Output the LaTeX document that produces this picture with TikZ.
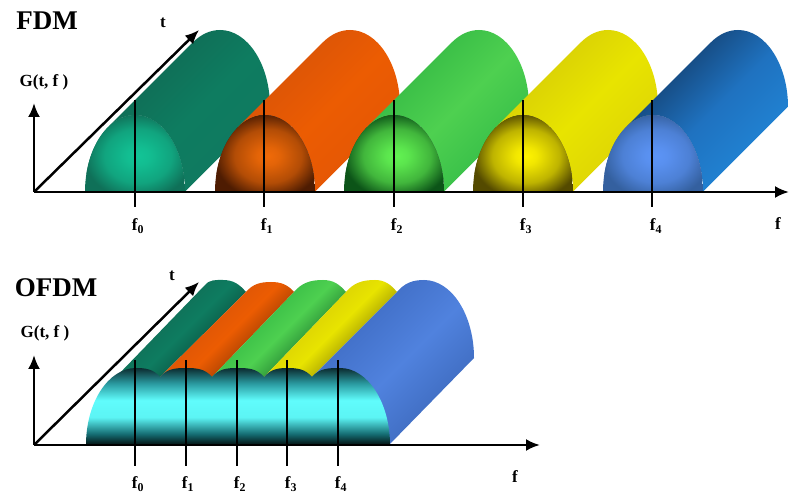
\documentclass[tikz,border=0pt]{standalone}
\usepackage{fontspec}
\usetikzlibrary{arrows.meta}
\setmainfont{Liberation Serif}

% Body colours (upper edge / middle / lower edge), then arch rim and arch centre.
\definecolor{tealA}{HTML}{0F7058}\definecolor{tealB}{HTML}{0E7C60}\definecolor{tealC}{HTML}{0F7A60}
\definecolor{tealrim}{HTML}{0F7058}\definecolor{tealglow}{HTML}{12C496}
\definecolor{orangeA}{HTML}{DE5606}\definecolor{orangeB}{HTML}{EC5C02}\definecolor{orangeC}{HTML}{E65804}
\definecolor{orangerim}{HTML}{4E1C02}\definecolor{orangeglow}{HTML}{F06A08}
\definecolor{greenA}{HTML}{3CC048}\definecolor{greenB}{HTML}{4ED050}\definecolor{greenC}{HTML}{3CC24A}
\definecolor{greenrim}{HTML}{0C5418}\definecolor{greenglow}{HTML}{62F252}
\definecolor{yellowA}{HTML}{DCD404}\definecolor{yellowB}{HTML}{E8E400}\definecolor{yellowC}{HTML}{E0D804}
\definecolor{yellowrim}{HTML}{544A00}\definecolor{yellowglow}{HTML}{FFF400}
\definecolor{blueA}{HTML}{174F88}\definecolor{blueB}{HTML}{1F72C0}\definecolor{blueC}{HTML}{2080D0}
\definecolor{bluerim}{HTML}{34609F}\definecolor{blueglow}{HTML}{5C94F6}
\definecolor{ofdmblueA}{HTML}{4270C8}\definecolor{ofdmblueB}{HTML}{5082DE}\definecolor{ofdmblueC}{HTML}{3F6CC0}
\definecolor{bandA}{HTML}{04100F}\definecolor{bandB}{HTML}{146A70}\definecolor{bandC}{HTML}{5CF4F4}
\definecolor{bandD}{HTML}{60FCFC}\definecolor{bandE}{HTML}{2A9AA0}\definecolor{bandF}{HTML}{0C2C30}

\pgfdeclareverticalshading{bandshade}{100bp}{color(0bp)=(bandA); color(25bp)=(bandA);
  color(32bp)=(bandB); color(43bp)=(bandC); color(54bp)=(bandD); color(65bp)=(bandE);
  color(75bp)=(bandF); color(100bp)=(bandF)}
\colorlet{archglow}{white}\colorlet{archrim}{black}
\pgfdeclareradialshading[archglow,archrim]{archshade}{\pgfpoint{0bp}{0bp}}{color(0bp)=(archglow);
  color(5bp)=(archglow!92!archrim); color(15bp)=(archglow!62!archrim); color(24bp)=(archrim); color(50bp)=(archrim)}

\tikzset{
  axisline/.style={line width=2.5pt,->},
  tickline/.style={line width=1.6pt},
  titletext/.style={font=\fontsize{27}{27}\selectfont\bfseries,inner sep=0pt},
  labeltext/.style={font=\fontsize{17}{17}\selectfont\bfseries,inner sep=0pt}
}

% Tunnel: centre x, base y, three body colours.
\newcommand{\tunnelbody}[5]{%
  \begin{scope}
    \clip (#1+50,#2) -- ++(85,85) arc[start angle=0,end angle=123,x radius=50,y radius=77]
      -- ++(-85,-85) arc[start angle=123,end angle=0,x radius=50,y radius=77] -- cycle;
    \shade[transform canvas={shift={({#1+31.9},{#2+53.1})},rotate=-45},
      left color=#3,right color=#5,middle color=#4] (-50,-170) rectangle (50,170);
  \end{scope}}
% Arch front: centre x, base y, rim colour, centre colour.
\newcommand{\archfront}[4]{%
  \begin{scope}
    \clip (#1+50,#2) arc[start angle=0,end angle=180,x radius=50,y radius=77] -- cycle;
    \colorlet{archglow}{#4}\colorlet{archrim}{#3}
    \fill[#3] (#1-50,#2) rectangle (#1+50,#2+77);
    \shade[shading=archshade] (#1+3,#2+36) ellipse[x radius=56,y radius=45];
  \end{scope}}

\begin{document}
\begin{tikzpicture}[x=1pt,y=1pt,>={Latex[length=14pt,width=12pt]}]
  \useasboundingbox (0,0) rectangle (789,495);

  % FDM: five separate tunnels.
  \foreach \cx/\tone in {135/teal,265/orange,394/green,523/yellow,653/blue} {
    \tunnelbody{\cx}{303}{\tone A}{\tone B}{\tone C}
    \archfront{\cx}{303}{\tone rim}{\tone glow}
  }

  % OFDM: overlapping ribbons, then the common front.
  \foreach \fl/\bl/\by/\tx/\ty/\br/\fr/\tone in {116/205/210/223/215/246/160/teal,
      160/246/203/271/213/294/212/orange,212/294/203/323/215/346/264/green,
      264/346/203/375/215/397/312/yellow} {
    \begin{scope}
      \clip (\fl,118) -- (\bl,\by) to[out=50,in=180] (\tx,\ty) to[out=0,in=130] (\br,203)
        -- (\fr,118) -- cycle;
      \shade[transform canvas={shift={({(\fl+\fr)/2+42},160)},rotate=-45},
        left color=\tone A,right color=\tone C!75!black,middle color=\tone B]
        (-25,-110) rectangle (25,110);
    \end{scope}
  }
  \begin{scope}
    \clip (389,50) -- (474,137) arc[start angle=0,end angle=90,x radius=50,y radius=78]
      to[out=180,in=50] (397,203) -- (312,118) -- cycle;
    \shade[transform canvas={shift={(398,128)},rotate=-45},
      left color=ofdmblueA,right color=ofdmblueC,middle color=ofdmblueB]
      (-60,-170) rectangle (60,170);
  \end{scope}
  \shade[shading=bandshade] (86,50) arc[start angle=180,end angle=90,x radius=50,y radius=77]
    to[out=0,in=130] (160,118) to[out=50,in=180] (186,127)
    to[out=0,in=130] (212,118) to[out=50,in=180] (237,127)
    to[out=0,in=130] (264,118) to[out=50,in=180] (287,127)
    to[out=0,in=130] (312,118) to[out=50,in=180] (340,127)
    arc[start angle=90,end angle=0,x radius=50,y radius=77] -- cycle;

  % Axes.
  \coordinate (fdmorigin) at (34,303);
  \coordinate (fdmfreq) at (789,303);
  \coordinate (fdmgain) at (34,392);
  \coordinate (fdmtime) at (199,465);
  \draw[axisline] (fdmorigin) -- (fdmfreq);
  \draw[axisline] (fdmorigin) -- (fdmgain);
  \draw[axisline] (fdmorigin) -- (fdmtime);
  \coordinate (ofdmorigin) at (34,50);
  \coordinate (ofdmfreq) at (540,50);
  \coordinate (ofdmgain) at (34,140);
  \coordinate (ofdmtime) at (199,213);
  \draw[axisline] (ofdmorigin) -- (ofdmfreq);
  \draw[axisline] (ofdmorigin) -- (ofdmgain);
  \draw[axisline] (ofdmorigin) -- (ofdmtime);

  % Carrier lines and their labels.
  \foreach \i/\x/\lx in {0/135/138,1/264/267,2/394/397,3/523/526,4/652/656} {
    \coordinate (fdmtop\i) at (\x,395);
    \coordinate (fdmend\i) at (\x,288);
    \draw[tickline] (fdmtop\i) -- (fdmend\i);
    \node[labeltext] (fdmf\i) at (\lx,269) {f\textsubscript{\i}};
  }
  \foreach \i/\x/\lx in {0/135/138,1/186/188,2/237/240,3/287/291,4/338/341} {
    \coordinate (ofdmtop\i) at (\x,135);
    \coordinate (ofdmend\i) at (\x,29);
    \draw[tickline] (ofdmtop\i) -- (ofdmend\i);
    \node[labeltext] (ofdmf\i) at (\lx,11) {f\textsubscript{\i}};
  }

  \node[titletext] (fdmtitle) at (47,474) {FDM};
  \node[labeltext] (fdmG) at (44,413) {G(t, f )};
  \node[labeltext] (fdmt) at (163,472) {t};
  \node[labeltext] (fdmf) at (778,271) {f};
  \node[titletext] (ofdmtitle) at (56,207) {OFDM};
  \node[labeltext] (ofdmG) at (45,162) {G(t, f )};
  \node[labeltext] (ofdmt) at (172,219) {t};
  \node[labeltext] (ofdmf) at (515,18) {f};
\end{tikzpicture}
\end{document}
